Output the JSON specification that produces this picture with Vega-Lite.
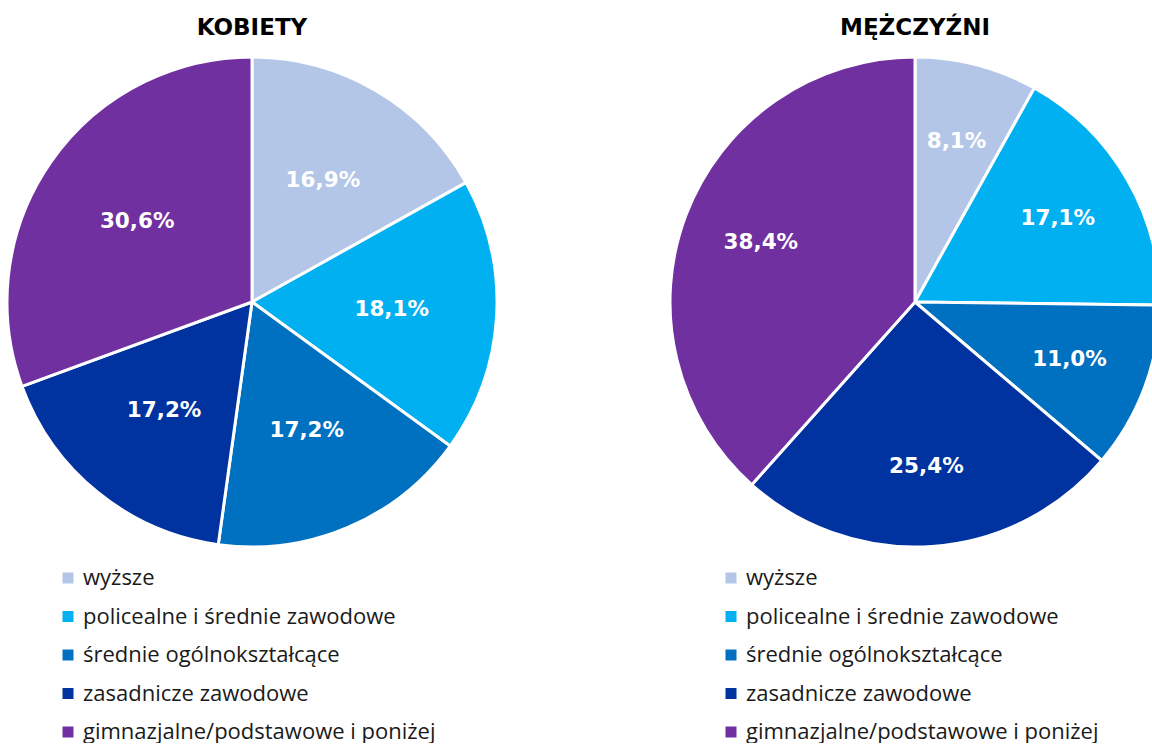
{
  "$schema": "https://vega.github.io/schema/vega-lite/v6.json",
  "padding": {"left": 1, "top": 17, "right": 0, "bottom": 0},
  "background": "white",
  "config": {
    "view": {"stroke": null},
    "title": {"font": "DejaVu Sans", "fontSize": 23, "fontWeight": "bold", "color": "#000000", "offset": 11, "anchor": "middle"},
    "legend": {
      "orient": "none",
      "legendX": 50,
      "legendY": 510,
      "title": null,
      "symbolType": "square",
      "symbolSize": 121,
      "symbolStrokeWidth": 0,
      "labelFont": "Open Sans",
      "labelFontSize": 22,
      "labelColor": "#1a1a1a",
      "labelLimit": 600,
      "rowPadding": 16.5,
      "labelOffset": 4
    }
  },
  "datasets": {
    "kobiety": [
      {"k": 1, "wyksztalcenie": "wyższe", "udzial": 16.9, "etykieta": "16,9%"},
      {"k": 2, "wyksztalcenie": "policealne i średnie zawodowe", "udzial": 18.1, "etykieta": "18,1%"},
      {"k": 3, "wyksztalcenie": "średnie ogólnokształcące", "udzial": 17.2, "etykieta": "17,2%"},
      {"k": 4, "wyksztalcenie": "zasadnicze zawodowe", "udzial": 17.2, "etykieta": "17,2%"},
      {"k": 5, "wyksztalcenie": "gimnazjalne/podstawowe i poniżej", "udzial": 30.6, "etykieta": "30,6%"}
    ],
    "mezczyzni": [
      {"k": 1, "wyksztalcenie": "wyższe", "udzial": 8.1, "etykieta": "8,1%"},
      {"k": 2, "wyksztalcenie": "policealne i średnie zawodowe", "udzial": 17.1, "etykieta": "17,1%"},
      {"k": 3, "wyksztalcenie": "średnie ogólnokształcące", "udzial": 11.0, "etykieta": "11,0%"},
      {"k": 4, "wyksztalcenie": "zasadnicze zawodowe", "udzial": 25.4, "etykieta": "25,4%"},
      {"k": 5, "wyksztalcenie": "gimnazjalne/podstawowe i poniżej", "udzial": 38.4, "etykieta": "38,4%"}
    ]
  },
  "spacing": 161,
  "resolve": {"scale": {"color": "independent"}, "legend": {"color": "independent"}},
  "hconcat": [
    {
      "title": "KOBIETY",
      "width": 490,
      "height": 490,
      "data": {"name": "kobiety"},
      "encoding": {
        "theta": {"field": "udzial", "type": "quantitative", "stack": true},
        "order": {"field": "k", "type": "quantitative"},
        "color": {
          "field": "wyksztalcenie",
          "type": "nominal",
          "scale": {
            "domain": ["wyższe", "policealne i średnie zawodowe", "średnie ogólnokształcące", "zasadnicze zawodowe", "gimnazjalne/podstawowe i poniżej"],
            "range": ["#B4C6E7", "#00B0F0", "#0070C0", "#0032A0", "#7030A0"]
          }
        }
      },
      "layer": [
        {"mark": {"type": "arc", "outerRadius": 245, "stroke": "white", "strokeWidth": 3}},
        {"mark": {"type": "text", "radius": 140, "font": "DejaVu Sans", "fontWeight": "bold", "fontSize": 21.5, "fill": "white"},
         "encoding": {"text": {"field": "etykieta"}, "color": {"value": "white"}}}
      ]
    },
    {
      "title": "MĘŻCZYŹNI",
      "width": 490,
      "height": 490,
      "data": {"name": "mezczyzni"},
      "encoding": {
        "theta": {"field": "udzial", "type": "quantitative", "stack": true},
        "order": {"field": "k", "type": "quantitative"},
        "color": {
          "field": "wyksztalcenie",
          "type": "nominal",
          "scale": {
            "domain": ["wyższe", "policealne i średnie zawodowe", "średnie ogólnokształcące", "zasadnicze zawodowe", "gimnazjalne/podstawowe i poniżej"],
            "range": ["#B4C6E7", "#00B0F0", "#0070C0", "#0032A0", "#7030A0"]
          }
        }
      },
      "layer": [
        {"mark": {"type": "arc", "outerRadius": 245, "stroke": "white", "strokeWidth": 3}},
        {"mark": {"type": "text", "radius": 165, "font": "DejaVu Sans", "fontWeight": "bold", "fontSize": 21.5, "fill": "white"},
         "encoding": {"text": {"field": "etykieta"}, "color": {"value": "white"}}}
      ]
    }
  ]
}
